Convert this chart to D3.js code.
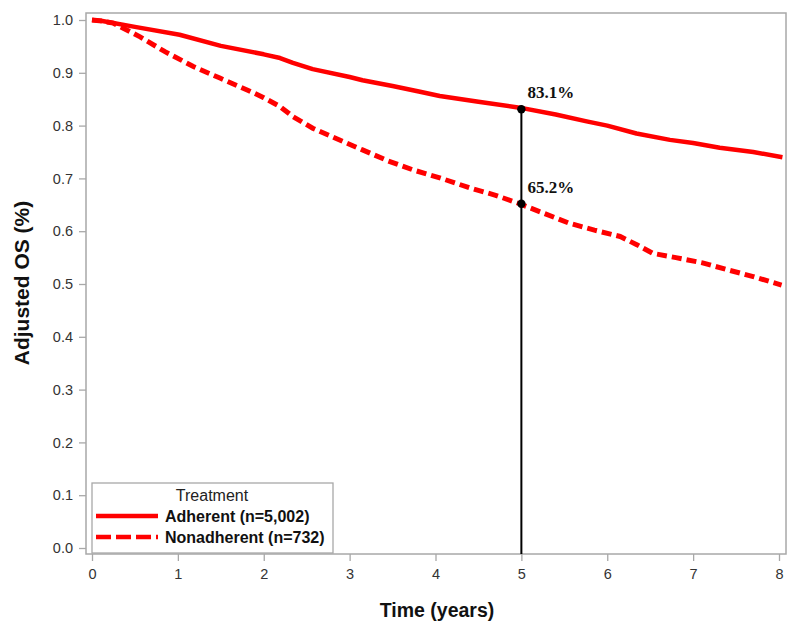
<!DOCTYPE html>
<html><head><meta charset="utf-8">
<script src="https://cdn.jsdelivr.net/npm/d3@7"></script>
<style>body{margin:0;background:#fff}</style>
</head><body>
<svg id="c" width="800" height="630"></svg>
<script>
const adhTime = [0,0.12,0.5,1.02,1.5,2.0,2.19,2.34,2.57,3.0,3.15,3.5,3.82,4.05,4.5,4.98,5.4,5.76,6.0,6.34,6.73,7.0,7.31,7.7,8.04];
const adhSurv = [1.0,0.998,0.987,0.972,0.951,0.935,0.928,0.919,0.907,0.892,0.886,0.875,0.864,0.856,0.845,0.834,0.821,0.808,0.800,0.785,0.773,0.767,0.758,0.750,0.740];
const nonTime = [0,0.12,0.25,0.56,0.85,1.18,1.49,1.8,2.0,2.19,2.34,2.57,2.85,3.15,3.45,3.74,4.05,4.4,4.7,4.98,5.26,5.56,5.85,6.15,6.35,6.53,6.8,7.11,7.4,7.7,8.03];
const nonSurv = [1.0,0.998,0.994,0.968,0.94,0.912,0.890,0.868,0.853,0.836,0.817,0.795,0.775,0.754,0.733,0.716,0.701,0.682,0.668,0.652,0.634,0.615,0.602,0.590,0.574,0.558,0.550,0.540,0.527,0.514,0.498];
const xTicks = [0,1,2,3,4,5,6,7,8];
const yTicks = [0,0.1,0.2,0.3,0.4,0.5,0.6,0.7,0.8,0.9,1.0];
const markTime = 5;
const markVals = [0.831, 0.652];
const markLabels = ["83.1%", "65.2%"];
const seriesNames = ["Adherent (n=5,002)", "Nonadherent (n=732)"];

const svg = d3.select("#c");
const x = d3.scaleLinear().domain([0,8]).range([92,779]);
const y = d3.scaleLinear().domain([0,1]).range([548,20]);
const L=86, R=786, T=13, B=554;
const gray = "#a8a8a8";

svg.append("clipPath").attr("id","clip").append("rect").attr("x",L).attr("y",T).attr("width",R-L).attr("height",B-T);

// axes
const xa = svg.append("g").attr("transform",`translate(0,${B})`)
  .call(d3.axisBottom(x).tickValues(xTicks).tickFormat(d3.format("d")).tickSize(7).tickSizeOuter(0));
const ya = svg.append("g").attr("transform",`translate(${L},0)`)
  .call(d3.axisLeft(y).tickValues(yTicks).tickFormat(d3.format(".1f")).tickSize(7).tickSizeOuter(0));
[xa,ya].forEach(a=>{
  a.select(".domain").remove();
  a.selectAll("line").attr("stroke",gray).attr("stroke-width",1.3);
  a.selectAll("text").attr("fill","#333").style("font-family","Liberation Sans, Arial, sans-serif").style("font-size","14.5px");
});
xa.selectAll("text").attr("dy","1.05em");
ya.selectAll("text").attr("x",-13);

// frame
svg.append("rect").attr("x",L).attr("y",T).attr("width",R-L).attr("height",B-T)
  .attr("fill","none").attr("stroke",gray).attr("stroke-width",1.5);

const line = d3.line().x(d=>x(d[0])).y(d=>y(d[1]));
const g = svg.append("g").attr("clip-path","url(#clip)");
g.append("path").datum(adhTime.map((t,i)=>[t,adhSurv[i]]))
  .attr("d",line).attr("fill","none").attr("stroke","#ff0000").attr("stroke-width",4.5).attr("stroke-linejoin","round");
g.append("path").datum(nonTime.map((t,i)=>[t,nonSurv[i]]))
  .attr("d",line).attr("fill","none").attr("stroke","#ff0000").attr("stroke-width",5).attr("stroke-dasharray","10,5");

// vertical marker
svg.append("line").attr("x1",x(markTime)).attr("x2",x(markTime)).attr("y1",y(markVals[0])).attr("y2",B)
  .attr("stroke","#000").attr("stroke-width",2);
markVals.forEach((v,i)=>{
  svg.append("circle").attr("cx",x(markTime)).attr("cy",y(v)).attr("r",4.2).attr("fill","#000");
  svg.append("text").attr("x",x(markTime)+6).attr("y",y(v)-11).text(markLabels[i])
    .style("font-family","Liberation Serif, Times New Roman, serif").style("font-weight","bold").style("font-size","17px").attr("fill","#111");
});

// axis titles
svg.append("text").attr("x",437).attr("y",617).attr("text-anchor","middle").text("Time (years)")
  .style("font-family","Liberation Sans, Arial, sans-serif").style("font-weight","bold").style("font-size","19.5px").attr("fill","#111");
svg.append("text").attr("transform","translate(29,283) rotate(-90)").attr("text-anchor","middle").text("Adjusted OS (%)")
  .style("font-family","Liberation Sans, Arial, sans-serif").style("font-weight","bold").style("font-size","21px").attr("fill","#111");

// legend
const lg = svg.append("g");
lg.append("rect").attr("x",92).attr("y",483).attr("width",241).attr("height",70).attr("fill","#fff").attr("stroke",gray).attr("stroke-width",1.3);
lg.append("text").attr("x",212).attr("y",500.5).attr("text-anchor","middle").text("Treatment")
  .style("font-family","Liberation Sans, Arial, sans-serif").style("font-size","16px").attr("fill","#222");
const dashes = [null,"15,5"];
seriesNames.forEach((n,i)=>{
  const yy = 516 + i*21;
  lg.append("line").attr("x1",96).attr("x2",158).attr("y1",yy).attr("y2",yy)
    .attr("stroke","#ff0000").attr("stroke-width",4.5).attr("stroke-dasharray",dashes[i]);
  lg.append("text").attr("x",165).attr("y",yy+6).text(n)
    .style("font-family","Liberation Sans, Arial, sans-serif").style("font-weight","bold").style("font-size","16px").attr("fill","#111");
});
</script>
</body></html>
